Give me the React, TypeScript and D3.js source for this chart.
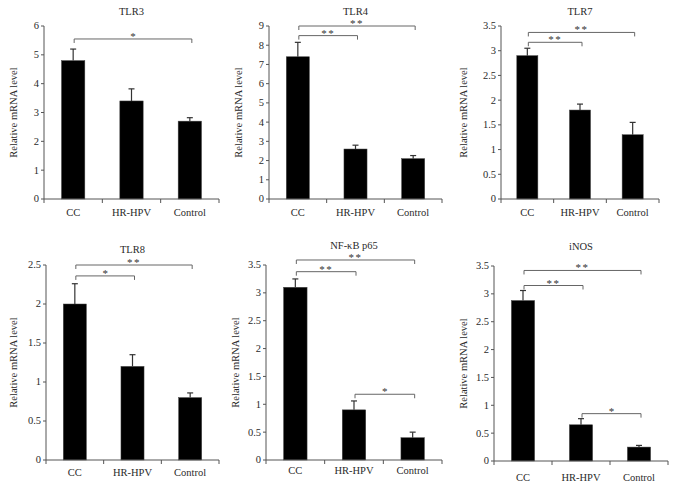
import React from "react";
import * as d3 from "d3";

const categories = ["CC", "HR-HPV", "Control"];
const titles = ["TLR3", "TLR4", "TLR7", "TLR8", "NF-κB p65", "iNOS"];
const yMaxes = [6, 9, 3.5, 2.5, 3.5, 3.5];
const tickSteps = [1, 1, 0.5, 0.5, 0.5, 0.5];

const tlr3Values = [4.8, 3.4, 2.7];
const tlr3Errors = [0.4, 0.42, 0.12];
const tlr4Values = [7.4, 2.6, 2.1];
const tlr4Errors = [0.75, 0.2, 0.16];
const tlr7Values = [2.9, 1.8, 1.3];
const tlr7Errors = [0.15, 0.12, 0.25];
const tlr8Values = [2.0, 1.2, 0.8];
const tlr8Errors = [0.26, 0.15, 0.06];
const nfkbValues = [3.1, 0.9, 0.4];
const nfkbErrors = [0.15, 0.16, 0.1];
const inosValues = [2.88, 0.65, 0.25];
const inosErrors = [0.18, 0.11, 0.03];

type Bracket = { from: number; to: number; level: number; label: string };
const tlr3Brackets: Bracket[] = [{ from: 0, to: 2, level: 5.55, label: "*" }];
const tlr4Brackets: Bracket[] = [
  { from: 0, to: 1, level: 8.5, label: "**" },
  { from: 0, to: 2, level: 9.0, label: "**" },
];
const tlr7Brackets: Bracket[] = [
  { from: 0, to: 1, level: 3.17, label: "**" },
  { from: 0, to: 2, level: 3.37, label: "**" },
];
const tlr8Brackets: Bracket[] = [
  { from: 0, to: 1, level: 2.36, label: "*" },
  { from: 0, to: 2, level: 2.5, label: "**" },
];
const nfkbBrackets: Bracket[] = [
  { from: 0, to: 1, level: 3.38, label: "**" },
  { from: 0, to: 2, level: 3.59, label: "**" },
  { from: 1, to: 2, level: 1.18, label: "*" },
];
const inosBrackets: Bracket[] = [
  { from: 0, to: 1, level: 3.15, label: "**" },
  { from: 0, to: 2, level: 3.42, label: "**" },
  { from: 1, to: 2, level: 0.85, label: "*" },
];

const allValues = [tlr3Values, tlr4Values, tlr7Values, tlr8Values, nfkbValues, inosValues];
const allErrors = [tlr3Errors, tlr4Errors, tlr7Errors, tlr8Errors, nfkbErrors, inosErrors];
const allBrackets = [tlr3Brackets, tlr4Brackets, tlr7Brackets, tlr8Brackets, nfkbBrackets, inosBrackets];

// layout (pixel frames for each panel)
const frames = [
  { x0: 44, x1: 219, yTop: 26, yBot: 199, labelX: 13, titleY: 15, catY: 216 },
  { x0: 269, x1: 442, yTop: 26, yBot: 199, labelX: 238, titleY: 15, catY: 216 },
  { x0: 501, x1: 659, yTop: 26, yBot: 199, labelX: 463, titleY: 15, catY: 216 },
  { x0: 46, x1: 219, yTop: 265, yBot: 460, labelX: 13, titleY: 253, catY: 476 },
  { x0: 266, x1: 442, yTop: 265, yBot: 460, labelX: 235, titleY: 249, catY: 474 },
  { x0: 494, x1: 668, yTop: 266, yBot: 461, labelX: 463, titleY: 250, catY: 481 },
];

const FONT = "'Liberation Serif', 'DejaVu Serif', serif";
const AXIS = "#555";
const BRACKET = "#666";
const TEXT = "#2a2a2a";

function Panel({ i }: { i: number }) {
  const f = frames[i];
  const values = allValues[i];
  const errors = allErrors[i];
  const brackets = allBrackets[i];
  const x = d3
    .scaleBand<string>()
    .domain(categories)
    .range([f.x0, f.x1])
    .paddingInner(0.6)
    .paddingOuter(0.3);
  const y = d3.scaleLinear().domain([0, yMaxes[i]]).range([f.yBot, f.yTop]);
  const ticks = d3.range(0, yMaxes[i] + 1e-9, tickSteps[i]);
  const step = x.step();
  const dividers = categories.map((_, k) => f.x0 + step * (k + 1));
  const cx = (k: number) => (x(categories[k]) as number) + x.bandwidth() / 2;

  return (
    <g fontFamily={FONT}>
      <text x={(f.x0 + f.x1) / 2} y={f.titleY} textAnchor="middle" fontSize={10.5} fill={TEXT}>
        {titles[i]}
      </text>
      {values.map((v, k) => (
        <rect
          key={k}
          x={x(categories[k])}
          y={y(v)}
          width={x.bandwidth()}
          height={f.yBot - y(v)}
          fill="#000"
          stroke="#444"
          strokeWidth={0.5}
        />
      ))}
      {values.map((v, k) => (
        <g key={"e" + k} stroke="#333" strokeWidth={1.2}>
          <line x1={cx(k)} x2={cx(k)} y1={y(v)} y2={y(v + errors[k])} />
          <line x1={cx(k) - 3} x2={cx(k) + 3} y1={y(v + errors[k])} y2={y(v + errors[k])} />
        </g>
      ))}
      <line x1={f.x0} x2={f.x0} y1={f.yTop} y2={f.yBot} stroke={AXIS} strokeWidth={1} />
      {ticks.map((t) => (
        <g key={t}>
          <line x1={f.x0 - 3} x2={f.x0} y1={y(t)} y2={y(t)} stroke={AXIS} />
          <text x={f.x0 - 5} y={y(t)} dy="0.33em" textAnchor="end" fontSize={10.5} fill={TEXT}>
            {String(t)}
          </text>
        </g>
      ))}
      <line x1={f.x0} x2={f.x1} y1={f.yBot} y2={f.yBot} stroke={AXIS} strokeWidth={1} />
      {[f.x0, ...dividers].map((d, k) => (
        <line key={k} x1={d} x2={d} y1={f.yBot} y2={f.yBot + 4} stroke={AXIS} />
      ))}
      {categories.map((c, k) => (
        <text key={c} x={cx(k)} y={f.catY} textAnchor="middle" fontSize={10.5} fill={TEXT}>
          {c}
        </text>
      ))}
      <text
        transform={`translate(${f.labelX},${(f.yTop + f.yBot) / 2}) rotate(-90)`}
        textAnchor="middle"
        dy="0.35em"
        fontSize={10.5}
        fill={TEXT}
      >
        Relative mRNA level
      </text>
      {brackets.map((b, k) => {
        const yy = y(b.level);
        const xa = cx(b.from) + 1;
        const xb = cx(b.to) + 2;
        return (
          <g key={"b" + k}>
            <path
              d={`M${xa},${yy + 4}V${yy}H${xb}V${yy + 4}`}
              fill="none"
              stroke={BRACKET}
              strokeWidth={1}
            />
            <text
              x={(xa + xb) / 2}
              y={yy + 1}
              textAnchor="middle"
              fontSize={11}
              fill="#333"
              letterSpacing={b.label.length > 1 ? 1.5 : 0}
            >
              {b.label}
            </text>
          </g>
        );
      })}
    </g>
  );
}

export default function App() {
  return (
    <svg
      width={676}
      height={485}
      style={{ position: "absolute", left: 0, top: 0, background: "#fff" }}
    >
      <rect width={676} height={485} fill="#fff" />
      {frames.map((_, i) => (
        <Panel key={i} i={i} />
      ))}
    </svg>
  );
}
